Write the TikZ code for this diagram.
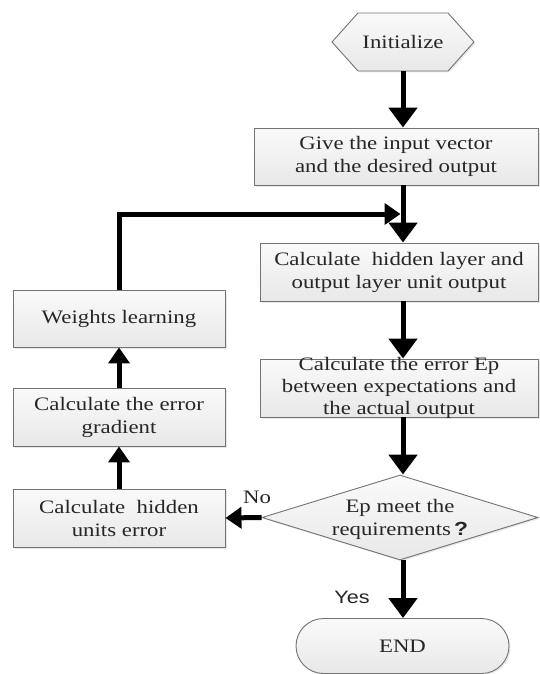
\documentclass[tikz,border=0pt]{standalone}
\usepackage{fontspec}
\setmainfont[FakeStretch=1.2]{Liberation Serif}
\newfontfamily\yesfont[FakeStretch=1.2]{Liberation Sans}
\usetikzlibrary{arrows.meta,shapes.geometric,shapes.misc,shadows,calc}
\begin{document}
\begin{tikzpicture}[x=1pt,y=-1pt,
  txt/.style={font=\fontsize{19}{23}\selectfont, text=black!85},
  shapefill/.style={draw=black!55, line width=0.9pt, top color=black!2, bottom color=black!9,
    drop shadow={opacity=0.18, shadow xshift=1.5pt, shadow yshift=-1.5pt}},
  box/.style={shapefill, txt, align=center, inner sep=0pt},
  dia/.style={shapefill, diamond, aspect=3.25, inner sep=0pt, minimum width=276pt, minimum height=85pt},
  arr/.style={line width=5pt, -{Triangle[width=28pt,length=20pt]}},
  sarr/.style={line width=5pt, -{Triangle[width=21pt,length=16pt]}},
  lbl/.style={txt, inner sep=0pt}
]
\useasboundingbox (0,0) rectangle (539,674);

% Initialize hexagon
\coordinate (ic) at (403,42);
\path[shapefill] ([xshift=-71pt]ic) -- ++(26,-29) -- ++(90,0) -- ++(26,29) -- ++(-26,29) -- ++(-90,0) -- cycle;
\node[txt, inner sep=0pt, minimum height=58pt] (init) at (ic) {Initialize};

% right column
\node[box, minimum width=284pt, minimum height=57pt] (give) at (396,156.5) {Give the input vector\\and the desired output};
\node[box, minimum width=278pt, minimum height=58pt] (hid) at (399,272) {Calculate\ \ hidden layer and\\output layer unit output};
\node[box, minimum width=278pt, minimum height=58pt, inner ysep=-4pt, font=\fontsize{19}{22}\selectfont] (ep) at (399,388) {Calculate the error Ep\\between expectations and\\the actual output};
\node[dia] (dec) at (400,517.5) {};
\node[lbl, align=center] (dect) at (400,519.5) {Ep meet the\\requirements\,{\yesfont\bfseries ?}};
\node[shapefill, txt, rounded rectangle, inner sep=0pt, minimum width=213pt, minimum height=55pt] (fin) at (402.5,646) {END};

% left column
\node[box, minimum width=212pt, minimum height=57pt] (wl) at (119,318.5) {Weights learning};
\node[box, minimum width=212pt, minimum height=58pt] (grad) at (119,417) {Calculate the error\\gradient};
\node[box, minimum width=212pt, minimum height=58pt] (hue) at (119,518) {Calculate\ \ hidden\\units error};

% labels
\node[lbl] (no) at (257,497) {No};
\node[inner sep=0pt, font=\yesfont\fontsize{18}{22}\selectfont, text=black!85] (yes) at (352,597) {Yes};

% connectors
\draw[arr] (init.south) -- (init.south |- give.north);
\draw[arr] (give.south -| init) -- (hid.north -| init);
\draw[arr] (hid.south -| init) -- (ep.north -| init);
\draw[arr] (ep.south -| init) -- (dec.north -| init);
\draw[arr] (dec.south -| init) -- (fin.north -| init);
\draw[sarr] (dec.west) -- (hue.east);
\draw[sarr] (hue.north) -- (grad.south);
\draw[sarr] (grad.north) -- (wl.south);
\coordinate (jn) at ($(give.south -| init)!0.5!(hid.north -| init)$);
\draw[sarr] (wl.north) |- ([xshift=-2.5pt]jn);
\end{tikzpicture}
\end{document}
